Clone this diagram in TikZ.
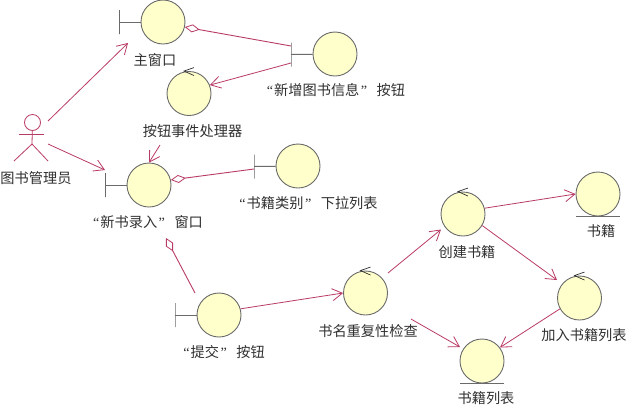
\documentclass[tikz,border=0pt]{standalone}
\usepackage{fontspec}
\setmainfont{Noto Sans CJK SC}
\newfontfamily\qf{Liberation Serif}
\usetikzlibrary{arrows.meta}
\definecolor{ln}{HTML}{B83A66}
\definecolor{gr}{HTML}{6A6A6A}
\definecolor{fl}{HTML}{FFFFCC}
\definecolor{tx}{HTML}{303030}
\newcommand{\oq}{{\qf “}\hspace{1pt}}
\newcommand{\cq}{\hspace{1.5pt}{\qf ”}\hspace{9.5pt}}
\tikzset{
  obj/.style={circle,draw=gr,fill=fl,line width=0.9pt,minimum size=44pt,inner sep=0pt},
  vbar/.style={draw=gr,line width=1pt,minimum width=0pt,minimum height=24pt,inner sep=0pt,outer sep=0pt},
  lab/.style={text=tx,inner sep=0pt,font=\fontsize{14.2}{16}\selectfont},
  msg/.style={draw=ln,line width=0.8pt,-{Straight Barb[length=10pt,width=12pt,line width=0.8pt]}},
  agg/.style={draw=ln,line width=0.9pt,{Diamond[open,length=15pt,width=8pt,line width=0.8pt]}-},
  link/.style={draw=gr,line width=1pt},
  ctl/.style={draw=tx,line width=0.7pt},
  actl/.style={draw=ln,line width=0.8pt}
}
\newcommand{\ctlmark}[1]{\draw[ctl] ([shift={(5,-3.5)}]#1.north) -- ([shift={(-5,0)}]#1.north) -- ([shift={(5,4.5)}]#1.north);}
\begin{document}
\begin{tikzpicture}[x=1pt,y=-1pt]
\useasboundingbox (0,0) rectangle (627,408);
% objects
\node[obj] (main) at (163,22) {};
\node[obj] (addb) at (335,54) {};
\node[obj] (hand) at (189,93.5) {};
\node[obj] (newf) at (149,185) {};
\node[obj] (cat) at (298,166) {};
\node[obj] (sub) at (219,315) {};
\node[obj] (chk) at (365.5,293) {};
\node[obj] (make) at (463,214) {};
\node[obj] (book) at (598,194) {};
\node[obj] (addl) at (579.5,298) {};
\node[obj] (list) at (482,361) {};
% boundary bars
\node[vbar] (mainbar) at (119.5,22) {};
\node[vbar] (addbbar) at (291,54.5) {};
\node[vbar] (newfbar) at (105.5,185) {};
\node[vbar] (catbar) at (254,166.5) {};
\node[vbar] (subbar) at (175,315) {};
\draw[link] (mainbar) -- (main);
\draw[link] (addbbar) -- (addb);
\draw[link] (newfbar) -- (newf);
\draw[link] (catbar) -- (cat);
\draw[link] (subbar) -- (sub);
% entity underlines
\coordinate (bookL) at (576,216); \coordinate (bookR) at (620,216);
\coordinate (listL) at (460,383); \coordinate (listR) at (504,383);
\draw[link] (bookL) -- (bookR);
\draw[link] (listL) -- (listR);
% control marks
\ctlmark{hand}
\ctlmark{chk}
\ctlmark{make}
\ctlmark{addl}
% actor
\node[circle,draw=ln,line width=0.8pt,minimum size=16pt,inner sep=0pt] (acthead) at (32.5,122.5) {};
\coordinate (armL) at (19,134.5); \coordinate (armR) at (44,134.5);
\coordinate (hip) at (32,144); \coordinate (legL) at (14,161); \coordinate (legR) at (48,161);
\draw[actl] (acthead) -- (hip) -- (legL);
\draw[actl] (hip) -- (legR);
\draw[actl] (armL) -- (armR);
% labels
\node[lab] (lmain) at (155,60) {主窗口};
\node[lab] (laddb) at (336,90) {\oq 新增图书信息\cq 按钮};
\node[lab] (lhand) at (192.5,131) {按钮事件处理器};
\node[lab] (lact) at (36,178) {图书管理员};
\node[lab] (lnewf) at (148,222) {\oq 新书录入\cq 窗口};
\node[lab] (lcat) at (308.5,203) {\oq 书籍类别\cq 下拉列表};
\node[lab] (lsub) at (224,352) {\oq 提交\cq 按钮};
\node[lab] (lchk) at (368,331) {书名重复性检查};
\node[lab] (lmake) at (467,252) {创建书籍};
\node[lab] (lbook) at (601,231) {书籍};
\node[lab] (laddl) at (584,335) {加入书籍列表};
\node[lab] (llist) at (486,398) {书籍列表};
% connector free ends
\coordinate (a1) at (48,121); \coordinate (a1e) at (128,43);
\coordinate (a2) at (48,144); \coordinate (a2e) at (105,170);
\coordinate (p3) at (291,46);
\coordinate (p4) at (291,63);
\coordinate (p5) at (160,145);
\coordinate (p6) at (254,169);
\coordinate (p7s) at (166,238); \coordinate (p7e) at (195,293);
\coordinate (p13) at (411,319);
\coordinate (p9) at (388,273); \coordinate (p9e) at (441,229.5);
\coordinate (p11e) at (557,280);
\coordinate (p13e) at (460,347);
% connectors
\draw[msg] (a1) -- (a1e);
\draw[msg] (a2) -- (a2e);
\draw[agg] (main.-13) -- (p3);
\draw[msg] (p4) -- (hand.22);
\draw[msg] (p5) -- (newf.north);
\draw[agg] (newf.13) -- (p6);
\draw[agg] (p7s) -- (p7e);
\draw[msg] (sub.16) -- (chk.west);
\draw[msg] (p9) -- (p9e);
\draw[msg] (make.15) -- (book.west);
\draw[msg] (make.-31) -- (p11e);
\draw[msg] (addl.-151) -- (list.37);
\draw[msg] (p13) -- (p13e);
\end{tikzpicture}
\end{document}
